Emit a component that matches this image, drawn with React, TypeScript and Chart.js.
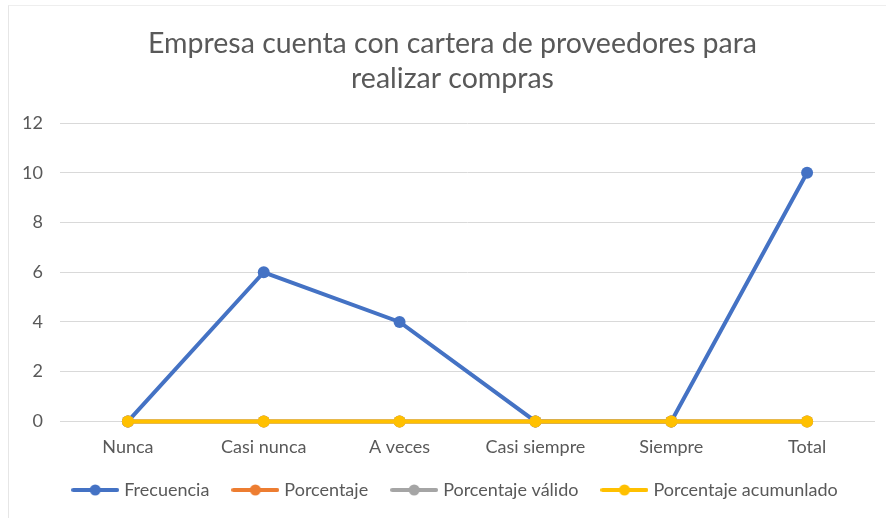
import React, { useEffect, useRef } from "react";
import { Chart, registerables } from "chart.js";

Chart.register(...registerables);

const categories = ["Nunca", "Casi nunca", "A veces", "Casi siempre", "Siempre", "Total"];
const frecuencia = [0, 6, 4, 0, 0, 10];
const porcentaje = [0, 0, 0, 0, 0, 0];
const porcentajeValido = [0, 0, 0, 0, 0, 0];
const porcentajeAcumulado = [0, 0, 0, 0, 0, 0];
const seriesNames = ["Frecuencia", "Porcentaje", "Porcentaje válido", "Porcentaje acumunlado"];
const seriesColors = ["#4472C4", "#ED7D31", "#A5A5A5", "#FFC000"];
const titleLines = ["Empresa cuenta con cartera de proveedores para", "realizar compras"];

const FONT = "Lato, 'Open Sans', sans-serif";
const TEXT = "#595959";

function legendIcon(color: string): HTMLCanvasElement {
  const c = document.createElement("canvas");
  c.width = 48;
  c.height = 12;
  const ctx = c.getContext("2d")!;
  ctx.strokeStyle = color;
  ctx.lineWidth = 4;
  ctx.lineCap = "round";
  ctx.beginPath();
  ctx.moveTo(2, 6);
  ctx.lineTo(46, 6);
  ctx.stroke();
  ctx.fillStyle = color;
  ctx.beginPath();
  ctx.arc(24, 6, 5.5, 0, Math.PI * 2);
  ctx.fill();
  return c;
}

const shiftBoxes = {
  id: "shiftBoxes",
  afterLayout(chart: any) {
    if (chart.titleBlock) {
      chart.titleBlock.left += 15;
      chart.titleBlock.right += 15;
    }
    if (chart.legend) {
      chart.legend.left += 19;
      chart.legend.right += 19;
    }
    if (chart.scales && chart.scales.x) {
      chart.scales.x.bottom += 14;
    }
  },
};

export default function App() {
  const ref = useRef<HTMLCanvasElement | null>(null);
  useEffect(() => {
    document.body.style.margin = "0";
    const values = [frecuencia, porcentaje, porcentajeValido, porcentajeAcumulado];
    const datasets = seriesNames.map((name, i) => ({
      label: name,
      data: values[i],
      borderColor: seriesColors[i],
      backgroundColor: seriesColors[i],
      borderWidth: 4,
      pointRadius: 6,
      pointBackgroundColor: seriesColors[i],
      pointBorderColor: seriesColors[i],
      pointBorderWidth: 0,
      tension: 0,
      clip: false as any,
      order: 3 - i,
    }));
    const chart = new Chart(ref.current!, {
      type: "line",
      data: { labels: categories, datasets },
      plugins: [shiftBoxes],
      options: {
        animation: false,
        responsive: false,
        layout: { padding: { left: 0, right: 11, top: 18, bottom: 9 } },
        plugins: {
          title: {
            display: true,
            text: titleLines,
            color: TEXT,
            font: { family: FONT, size: 28.5, weight: "normal", lineHeight: 1.23 },
            padding: { top: 8, bottom: 27 },
          },
          legend: {
            position: "bottom",
            labels: {
              usePointStyle: true,
              pointStyleWidth: 40,
              color: TEXT,
              font: { family: FONT, size: 18 },
              padding: 26,
              boxHeight: 12,
              sort: (a: any, b: any) => a.datasetIndex - b.datasetIndex,
              generateLabels: (chart: any) =>
                chart.data.datasets.map((ds: any, i: number) => ({
                  text: ds.label,
                  fillStyle: ds.borderColor,
                  strokeStyle: ds.borderColor,
                  pointStyle: legendIcon(ds.borderColor),
                  datasetIndex: i,
                  hidden: false,
                  lineWidth: 0,
                  fontColor: TEXT,
                })),
            },
          },
          tooltip: { enabled: false },
        },
        scales: {
          x: {
            offset: true,
            grid: { display: false },
            border: { display: false },
            ticks: { color: TEXT, font: { family: FONT, size: 18 }, padding: 7 },
            afterFit: (s: any) => {
              s.height = s.height - 10;
            },
          },
          y: {
            min: 0,
            max: 12,
            ticks: { stepSize: 2, color: TEXT, font: { family: FONT, size: 18 }, padding: 17 },
            grid: { color: "#D9D9D9", lineWidth: 1, drawTicks: false },
            border: { display: false },
            afterFit: (s: any) => {
              s.width = 60;
            },
          },
        },
      },
    });
    return () => chart.destroy();
  }, []);
  return (
    <div style={{ position: "relative", width: 886, height: 518, background: "#fff" }}>
      <canvas ref={ref} width={886} height={518} style={{ display: "block" }} />
      <div
        style={{
          position: "absolute",
          left: 8,
          top: 5,
          right: 0,
          bottom: 0,
          borderLeft: "1px solid #E6E6E6",
          borderTop: "1px solid #EEEEEE",
          pointerEvents: "none",
        }}
      />
    </div>
  );
}
